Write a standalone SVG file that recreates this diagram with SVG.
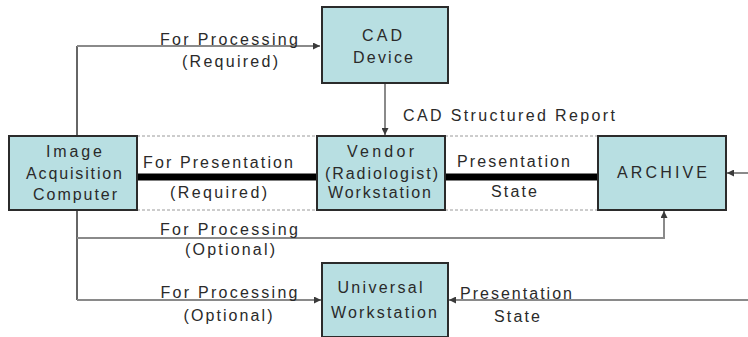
<svg xmlns="http://www.w3.org/2000/svg" width="748" height="337" viewBox="0 0 748 337">
<style>
.box{fill:#b8dfe2;stroke:#2b2b2b;stroke-width:2}
.t{font-family:"Liberation Sans",Arial,sans-serif;font-size:16px;fill:#2a2a2a;text-anchor:middle}
.ln{fill:none;stroke:#8a8a8a;stroke-width:2}
.dk{fill:none;stroke:#666;stroke-width:2}
.dash{fill:none;stroke:#9a9a9a;stroke-width:1;stroke-dasharray:3 2}
.thick{fill:none;stroke:#000;stroke-width:7}
</style>
<defs>
<marker id="ah" viewBox="0 0 8 8" refX="8" refY="4" markerWidth="3.5" markerHeight="3.5" orient="auto" markerUnits="strokeWidth">
<path d="M0,0 L8,4 L0,8 z" fill="#3a3a3a"/>
</marker>
</defs>
<rect width="748" height="337" fill="#fff"/>
<g id="connectors">
<path class="dk" d="M77,46 V300"/>
<path class="ln" d="M77,46 H320" marker-end="url(#ah)"/>
<path class="ln" d="M385,83 V135" marker-end="url(#ah)"/>
<path class="dash" d="M137,136 H317 M137,210 H317 M445,136 H598 M445,210 H598"/>
<path class="thick" d="M137,177 H317 M445,177 H598"/>
<path class="ln" d="M77,238 H664 V211" marker-end="url(#ah)"/>
<path class="ln" d="M77,300 H321" marker-end="url(#ah)"/>
<path class="ln" d="M748,300 H449" marker-end="url(#ah)"/>
<path class="ln" d="M748,173 H727" marker-end="url(#ah)"/>
<text class="t" x="229" y="45" textLength="138" lengthAdjust="spacing">For Processing</text>
<text class="t" x="230" y="67" textLength="96" lengthAdjust="spacing">(Required)</text>
<text class="t" x="403" y="121" style="text-anchor:start" textLength="212" lengthAdjust="spacing">CAD Structured Report</text>
<text class="t" x="218" y="168" textLength="150" lengthAdjust="spacing">For Presentation</text>
<text class="t" x="218.5" y="198" textLength="97" lengthAdjust="spacing">(Required)</text>
<text class="t" x="513.5" y="167" textLength="113" lengthAdjust="spacing">Presentation</text>
<text class="t" x="514" y="197" textLength="46" lengthAdjust="spacing">State</text>
<text class="t" x="229" y="235" textLength="138" lengthAdjust="spacing">For Processing</text>
<text class="t" x="230" y="255" textLength="90" lengthAdjust="spacing">(Optional)</text>
<text class="t" x="229" y="298" textLength="137" lengthAdjust="spacing">For Processing</text>
<text class="t" x="228" y="321" textLength="89" lengthAdjust="spacing">(Optional)</text>
<text class="t" x="516" y="299" textLength="112" lengthAdjust="spacing">Presentation</text>
<text class="t" x="517" y="322" textLength="46" lengthAdjust="spacing">State</text>
</g>
<g id="cad">
<rect class="box" x="322" y="7" width="126" height="76"/>
<text class="t" x="382" y="41" textLength="40" lengthAdjust="spacing">CAD</text>
<text class="t" x="383" y="63" textLength="60" lengthAdjust="spacing">Device</text>
</g>
<g id="iac">
<rect class="box" x="9" y="136" width="128" height="74"/>
<text class="t" x="74" y="157" textLength="56" lengthAdjust="spacing">Image</text>
<text class="t" x="74" y="179" textLength="96" lengthAdjust="spacing">Acquisition</text>
<text class="t" x="75" y="200" textLength="84" lengthAdjust="spacing">Computer</text>
</g>
<g id="vendor">
<rect class="box" x="317" y="136" width="128" height="74"/>
<text class="t" x="380.5" y="157" textLength="67" lengthAdjust="spacing">Vendor</text>
<text class="t" x="381.5" y="179" textLength="113" lengthAdjust="spacing">(Radiologist)</text>
<text class="t" x="379.5" y="198" textLength="103" lengthAdjust="spacing">Workstation</text>
</g>
<g id="archive">
<rect class="box" x="598" y="136" width="128" height="74"/>
<text class="t" x="662" y="178" textLength="90" lengthAdjust="spacing">ARCHIVE</text>
</g>
<g id="universal">
<rect class="box" x="322" y="263" width="126" height="74"/>
<text class="t" x="380" y="293" textLength="85" lengthAdjust="spacing">Universal</text>
<text class="t" x="384" y="318" textLength="106" lengthAdjust="spacing">Workstation</text>
</g>
</svg>
